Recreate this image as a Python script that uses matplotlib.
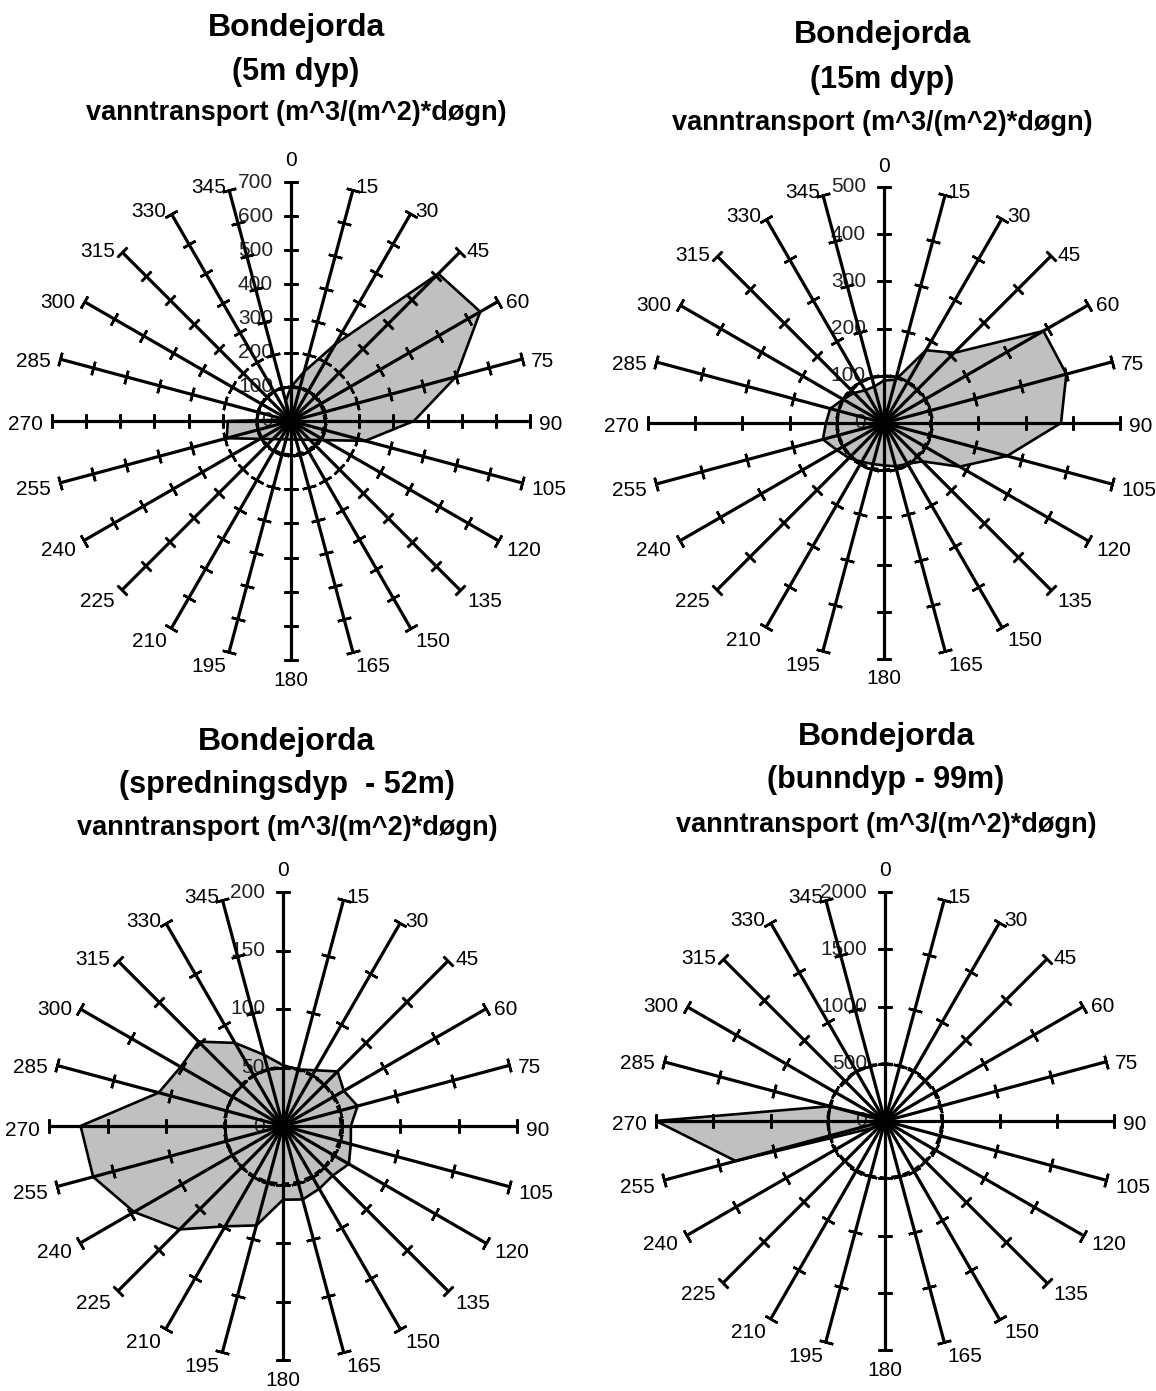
import numpy as np
import matplotlib.pyplot as plt

plt.rcParams['font.family'] = ['Liberation Sans', 'DejaVu Sans']

# Directions (degrees, clockwise from north), one spoke every 15 degrees
directions = list(range(0, 360, 15))
nan = np.nan

# Water transport per direction
# order: 0, 15, 30, ..., 345
transport_5m = [100, 150, 260, 610, 640, 500, 360, 225,
                nan, nan, nan, nan, nan, nan, nan, nan, nan,
                195, 185, 15, 10, 10, 20, 60]
transport_15m = [90, 95, 178, 210, 390, 400, 375, 270,
                 185, 115, 100, 95, 90, 90, 95, 105, 115,
                 134, 123, 118, 100, 90, 80, 80]
transport_52m = [52, 50, 55, 66, 60, 66, 58, 60,
                 65, 60, 62, 65, 63, 88, 99, 125, 147,
                 168, 173, 110, 101, 102, 82, 63]
transport_99m = [0, 0, 0, 0, 0, 0, 0, 0,
                 0, 0, 0, 0, 0, 0, 0, 0, 120,
                 1350, 2000, 500, 60, 0, 0, 0]

# dashed reference ring of each chart
ref_5m, ref_15m, ref_52m, ref_99m = 100, 100, 50, 500

# radial axis max and step
axis_5m, axis_15m, axis_52m, axis_99m = (700, 100), (500, 100), (200, 50), (2000, 500)

titles = ['(5m dyp)', '(15m dyp)', '(spredningsdyp  - 52m)', '(bunndyp - 99m)']
unit_text = 'vanntransport (m^3/(m^2)*døgn)'

W, H = 1156, 1391
fig = plt.figure(figsize=(W / 100, H / 100), dpi=100)


def label_offset(d):
    # pixel offset of a direction label from the end of its spoke (Excel-like placement)
    t = np.deg2rad(d)
    s, c = np.sin(t), np.cos(t)
    if d == 0:
        return 0, 21
    if d == 180:
        return 0, -20
    hw = len(str(d)) * 6.0
    dx = np.sign(s) * (hw + 9 * abs(s))
    dy_down = 4 - (7 if c > 0 else 11) * c
    return dx, -dy_down


def radar(cx, cy, rad, values, ref, axis_spec):
    rmax, step = axis_spec
    ax = fig.add_axes([(cx - rad) / W, 1 - (cy + rad) / H, 2 * rad / W, 2 * rad / H],
                      projection='polar')
    ax.set_theta_zero_location('N')
    ax.set_theta_direction(-1)
    ax.set_ylim(0, rmax)
    ax.axis('off')

    th = np.deg2rad(directions)
    vals = np.array(values, dtype=float)

    # filled polygon, missing directions are skipped like in the spreadsheet
    ok = ~np.isnan(vals)
    t_ok = np.append(th[ok], th[ok][0])
    v_ok = np.append(vals[ok], vals[ok][0])
    ax.fill(t_ok, v_ok, color='#c0c0c0', zorder=1)
    ax.plot(t_ok, v_ok, color='k', lw=1.9, zorder=3)

    # spokes with tick marks
    tick_vals = np.arange(step, rmax + step / 2, step)
    for d, t in zip(directions, th):
        ax.plot([t, t], [0, rmax], color='k', lw=2.3, zorder=2, clip_on=False,
                solid_capstyle='butt')
        ax.plot(np.full(len(tick_vals), t), tick_vals, ls='none',
                marker=(2, 2, 90 - d), ms=10, mew=1.8, color='k', zorder=2, clip_on=False)
        # direction labels
        dx, dy = label_offset(d)
        ax.annotate(str(d), xy=(t, rmax), xytext=(dx, dy),
                    textcoords='offset pixels', ha='center', va='center',
                    fontsize=15, annotation_clip=False)

    # dashed reference ring
    ring = np.full(len(th) + 1, ref)
    ax.plot(np.append(th, th[0]), ring, color='k', lw=2.5, ls=(0, (2.2, 1.2)), zorder=4)

    # radial value labels next to the north spoke
    for v in np.arange(0, rmax + step / 2, step):
        ax.annotate(f'{v:g}', xy=(0, v), xytext=(-18, 0), textcoords='offset pixels',
                    ha='right', va='center', fontsize=15, color='#222222',
                    annotation_clip=False, zorder=1.5)
    return ax


def heading(x, ys, sub):
    fig.text(x, 1 - ys[0] / H, 'Bondejorda', ha='center', va='center',
             fontsize=23, fontweight='bold')
    fig.text(x, 1 - ys[1] / H, sub, ha='center', va='center',
             fontsize=22, fontweight='bold')
    fig.text(x, 1 - ys[2] / H, unit_text, ha='center', va='center',
             fontsize=19.5, fontweight='bold')


radar(291, 421, 239, transport_5m, ref_5m, axis_5m)
radar(884, 423, 236, transport_15m, ref_15m, axis_15m)
radar(283, 1126, 234, transport_52m, ref_52m, axis_52m)
radar(885, 1121, 229, transport_99m, ref_99m, axis_99m)

heading(296 / W, (28, 72, 113), titles[0])
heading(882 / W, (35, 80, 123), titles[1])
heading(287 / W, (742, 785, 828), titles[2])
heading(886 / W, (737, 780, 825), titles[3])

fig.savefig('out.png', dpi=100)
